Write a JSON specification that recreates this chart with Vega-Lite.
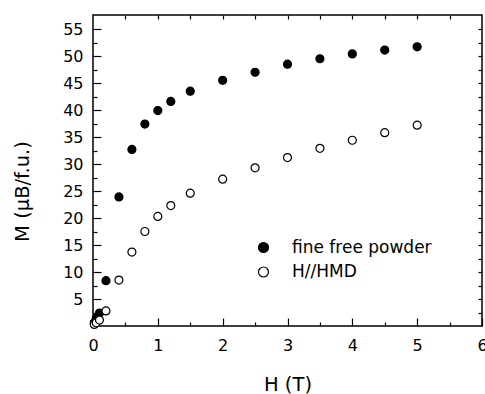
{
  "$schema": "https://vega.github.io/schema/vega-lite/v6.json",
  "width": 389,
  "height": 311,
  "autosize": {"type": "none"},
  "padding": {"left": 93, "top": 15, "right": 3, "bottom": 68},
  "background": "white",
  "config": {
    "view": {"stroke": "black", "strokeWidth": 1.5},
    "axis": {
      "domain": false, "grid": false, "tickColor": "black", "tickWidth": 1.2,
      "labelFont": "DejaVu Sans", "labelFontSize": 16, "labelColor": "black",
      "titleFont": "DejaVu Sans", "titleFontSize": 19.5, "titleFontWeight": "normal", "titleColor": "black",
      "labelFlush": false, "labelOverlap": false
    },
    "legend": {
      "orient": "none", "legendX": 162, "legendY": 224, "title": null,
      "labelFont": "DejaVu Sans", "labelFontSize": 17, "labelColor": "black",
      "symbolSize": 100, "symbolStrokeColor": "black", "symbolStrokeWidth": 1.2,
      "symbolType": "circle", "labelOffset": 20, "rowPadding": 6.5, "padding": 0
    }
  },
  "data": {
    "values": [
      {"H": 0.02, "M": 0.6, "series": "fine free powder"},
      {"H": 0.05, "M": 1.4, "series": "fine free powder"},
      {"H": 0.1, "M": 2.4, "series": "fine free powder"},
      {"H": 0.2, "M": 8.4, "series": "fine free powder"},
      {"H": 0.4, "M": 23.9, "series": "fine free powder"},
      {"H": 0.6, "M": 32.7, "series": "fine free powder"},
      {"H": 0.8, "M": 37.4, "series": "fine free powder"},
      {"H": 1.0, "M": 39.9, "series": "fine free powder"},
      {"H": 1.2, "M": 41.6, "series": "fine free powder"},
      {"H": 1.5, "M": 43.5, "series": "fine free powder"},
      {"H": 2.0, "M": 45.5, "series": "fine free powder"},
      {"H": 2.5, "M": 47.0, "series": "fine free powder"},
      {"H": 3.0, "M": 48.5, "series": "fine free powder"},
      {"H": 3.5, "M": 49.5, "series": "fine free powder"},
      {"H": 4.0, "M": 50.4, "series": "fine free powder"},
      {"H": 4.5, "M": 51.1, "series": "fine free powder"},
      {"H": 5.0, "M": 51.7, "series": "fine free powder"},
      {"H": 0.02, "M": 0.3, "series": "H//HMD"},
      {"H": 0.05, "M": 0.6, "series": "H//HMD"},
      {"H": 0.1, "M": 1.1, "series": "H//HMD"},
      {"H": 0.2, "M": 2.8, "series": "H//HMD"},
      {"H": 0.4, "M": 8.5, "series": "H//HMD"},
      {"H": 0.6, "M": 13.7, "series": "H//HMD"},
      {"H": 0.8, "M": 17.5, "series": "H//HMD"},
      {"H": 1.0, "M": 20.3, "series": "H//HMD"},
      {"H": 1.2, "M": 22.3, "series": "H//HMD"},
      {"H": 1.5, "M": 24.6, "series": "H//HMD"},
      {"H": 2.0, "M": 27.2, "series": "H//HMD"},
      {"H": 2.5, "M": 29.3, "series": "H//HMD"},
      {"H": 3.0, "M": 31.2, "series": "H//HMD"},
      {"H": 3.5, "M": 32.9, "series": "H//HMD"},
      {"H": 4.0, "M": 34.4, "series": "H//HMD"},
      {"H": 4.5, "M": 35.8, "series": "H//HMD"},
      {"H": 5.0, "M": 37.2, "series": "H//HMD"}
    ]
  },
  "layer": [
    {
      "mark": {"type": "circle", "opacity": 0},
      "encoding": {
        "x": {"field": "H", "type": "quantitative", "scale": {"domain": [0, 6], "nice": false, "zero": false},
          "axis": {"orient": "bottom", "values": [0.5, 1.5, 2.5, 3.5, 4.5, 5.5], "labels": false, "tickSize": -4, "title": null}},
        "y": {"field": "M", "type": "quantitative", "scale": {"domain": [0, 57.6], "nice": false, "zero": false},
          "axis": {"orient": "left", "values": [2.5, 7.5, 12.5, 17.5, 22.5, 27.5, 32.5, 37.5, 42.5, 47.5, 52.5], "labels": false, "tickSize": -4, "title": null}}
      }
    },
    {
      "mark": {"type": "circle", "opacity": 0},
      "encoding": {
        "x": {"field": "H", "type": "quantitative",
          "axis": {"orient": "top", "values": [0.5, 1, 1.5, 2, 2.5, 3, 3.5, 4, 4.5, 5, 5.5], "labels": false, "tickSize": -4, "title": null}},
        "y": {"field": "M", "type": "quantitative",
          "axis": {"orient": "right", "values": [2.5, 5, 7.5, 10, 12.5, 15, 17.5, 20, 22.5, 25, 27.5, 30, 32.5, 35, 37.5, 40, 42.5, 45, 47.5, 50, 52.5, 55], "labels": false, "tickSize": -4, "title": null}}
      }
    },
    {
      "mark": {"type": "circle", "size": 64, "stroke": "black", "strokeWidth": 1.2, "opacity": 1},
      "encoding": {
        "x": {"field": "H", "type": "quantitative",
          "axis": {"orient": "bottom", "values": [0, 1, 2, 3, 4, 5, 6], "tickSize": -8, "labelPadding": 19,
            "title": "H (T)", "titleX": 194.5, "titleY": 58, "titleBaseline": "middle", "titleAlign": "center"}},
        "y": {"field": "M", "type": "quantitative",
          "axis": {"orient": "left", "values": [5, 10, 15, 20, 25, 30, 35, 40, 45, 50, 55], "tickSize": -8, "labelPadding": 18,
            "title": "M (μB/f.u.)", "titleX": -71, "titleY": 176, "titleBaseline": "middle", "titleAlign": "center", "titleAngle": -90}},
        "fill": {"field": "series", "type": "nominal",
          "scale": {"domain": ["fine free powder", "H//HMD"], "range": ["black", "white"]}}
      }
    }
  ],
  "resolve": {"axis": {"x": "independent", "y": "independent"}}
}
